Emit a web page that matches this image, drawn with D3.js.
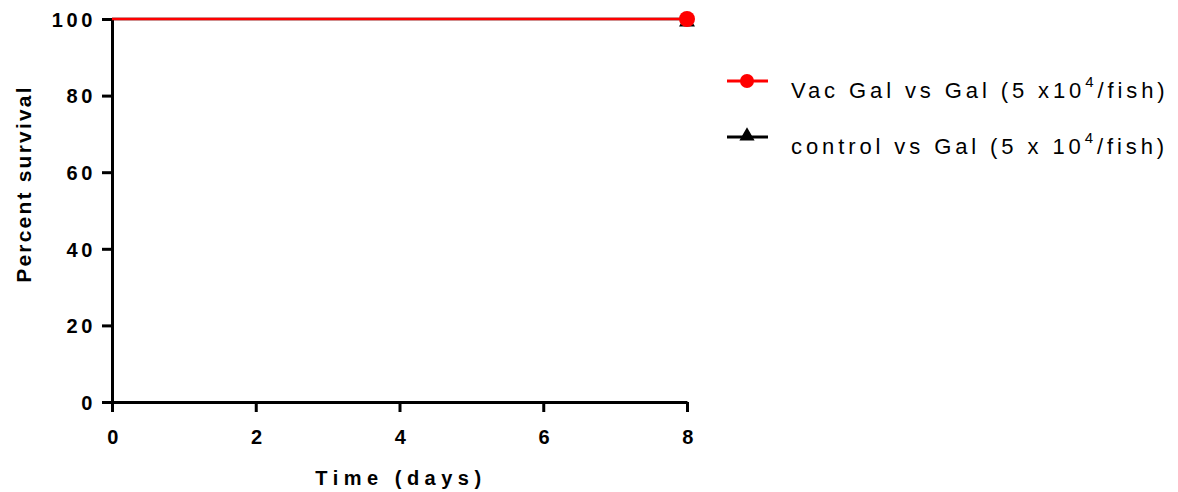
<!DOCTYPE html>
<html>
<head>
<meta charset="utf-8">
<script src="https://d3js.org/d3.v7.min.js"></script>
<style>
  body { margin: 0; background: #fff; }
  svg { font-family: "Liberation Sans", Arial, sans-serif; }
</style>
</head>
<body>
<div id="chart"></div>
<script>
// data
const days = [0, 8];
const vacGal = [100, 100];
const controlGal = [100, 100];
const xTicks = [0, 2, 4, 6, 8];
const yTicks = [0, 20, 40, 60, 80, 100];
const seriesNames = ["Vac Gal vs Gal (5 x10", "control vs Gal (5 x 10"];

let margin = { top: 19, right: 491, bottom: 90, left: 112 },
    width = 1178 - margin.left - margin.right,
    height = 492 - margin.top - margin.bottom;

let svg = d3.select("#chart")
    .append("svg")
    .attr("width", 1178)
    .attr("height", 492)
    .append("g")
    .attr("transform", "translate(" + margin.left + "," + margin.top + ")");

const x = d3.scaleLinear().domain([0, 8]).range([0, width]);
const y = d3.scaleLinear().domain([0, 100]).range([height, 0]);

// axes
let xAxis = svg.append("g")
    .attr("transform", "translate(0," + height + ")")
    .call(d3.axisBottom(x).tickValues(xTicks).tickSize(10).tickPadding(18).tickSizeOuter(0));
let yAxis = svg.append("g")
    .call(d3.axisLeft(y).tickValues(yTicks).tickSize(10).tickPadding(6).tickSizeOuter(0));

[xAxis, yAxis].forEach(function(a) {
    a.selectAll(".domain").attr("stroke", "#000").attr("stroke-width", 3);
    a.selectAll(".tick line").attr("stroke", "#000").attr("stroke-width", 3);
    a.selectAll(".tick text")
        .attr("fill", "#000")
        .style("font-size", "20px")
        .style("font-weight", "bold")
        .style("letter-spacing", "3.6px")
        .style("font-family", "'Liberation Sans', Arial, sans-serif");
});
yAxis.selectAll(".tick text").attr("dy", "0.36em");
xAxis.selectAll(".tick text").attr("dx", "2px");

// axis titles
svg.append("text")
    .attr("x", 289)
    .attr("y", height + 83)
    .attr("text-anchor", "middle")
    .style("font-size", "20px")
    .style("font-weight", "bold")
    .style("letter-spacing", "5.5px")
    .text("Time (days)");

svg.append("text")
    .attr("transform", "translate(-81," + (183 - margin.top + 1) + ") rotate(-90)")
    .attr("text-anchor", "middle")
    .style("font-size", "21px")
    .style("font-weight", "bold")
    .style("letter-spacing", "2.2px")
    .text("Percent survival");

// series lines
let line = d3.line()
    .x(function(d, i) { return x(days[i]); })
    .y(function(d) { return y(d); })
    .curve(d3.curveStepAfter);

svg.append("path").datum(controlGal)
    .attr("fill", "none").attr("stroke", "#000").attr("stroke-width", 2.5)
    .attr("d", line);
svg.append("path").datum(vacGal)
    .attr("fill", "none").attr("stroke", "#ff0000").attr("stroke-width", 2.5)
    .attr("d", line);

// markers at last point
const tri = d3.symbol().type(d3.symbolTriangle).size(110);
svg.append("path")
    .attr("d", tri)
    .attr("transform", "translate(" + x(days[1]) + "," + (y(controlGal[1]) + 3) + ")")
    .attr("fill", "#000");
svg.append("circle")
    .attr("cx", x(days[1]))
    .attr("cy", y(vacGal[1]))
    .attr("r", 8)
    .attr("fill", "#ff0000");

// legend
let legend = d3.select("svg").append("g");
const legY = [81, 137];
const legColors = ["#ff0000", "#000"];

legY.forEach(function(ly, i) {
    legend.append("line")
        .attr("x1", 727).attr("x2", 768)
        .attr("y1", ly).attr("y2", ly)
        .attr("stroke", legColors[i]).attr("stroke-width", 3);
    if (i === 0) {
        legend.append("circle").attr("cx", 747).attr("cy", ly).attr("r", 7).attr("fill", legColors[i]);
    } else {
        legend.append("path")
            .attr("d", d3.symbol().type(d3.symbolTriangle).size(100))
            .attr("transform", "translate(747," + (ly - 1) + ")")
            .attr("fill", "#000");
    }
    let t = legend.append("text")
        .attr("x", 791).attr("y", ly + 17)
        .style("font-size", "22px")
        .style("letter-spacing", "3.9px")
        .attr("fill", "#000");
    t.append("tspan").text(seriesNames[i]);
    t.append("tspan").attr("dy", -11).style("font-size", "15px").text("4");
    t.append("tspan").attr("dy", 11).text("/fish)");
});
</script>
</body>
</html>
